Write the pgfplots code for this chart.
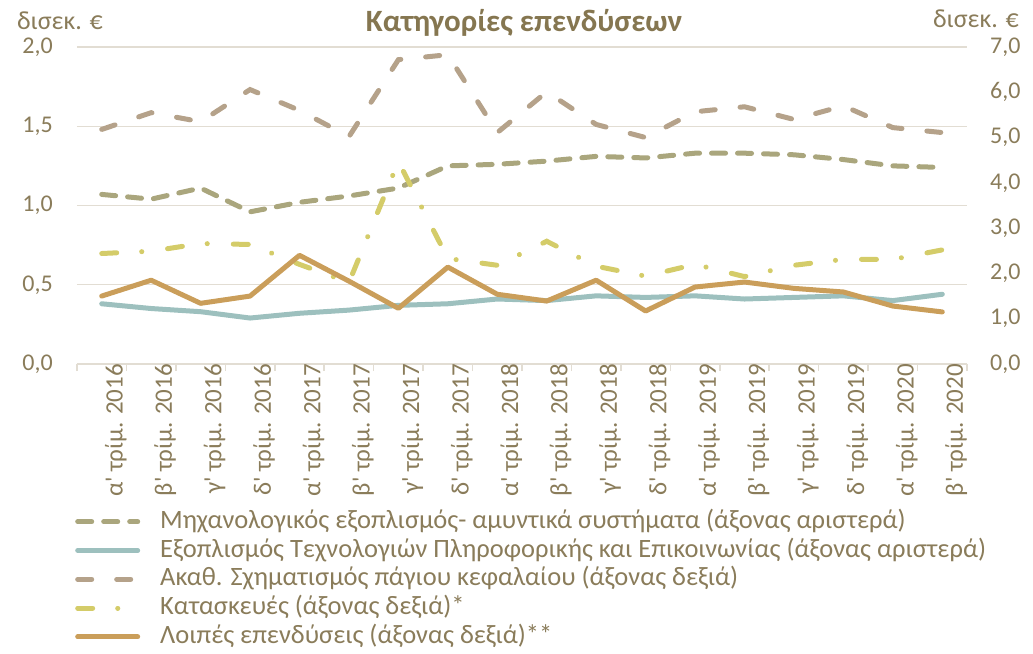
\documentclass[border=0pt]{standalone}
\usepackage{pgfplots}
\usepackage{pgfplotstable}
\pgfplotsset{compat=1.18}
\usepackage{fontspec}
\setmainfont{Carlito}
\definecolor{txt}{HTML}{8A7C5A}
\definecolor{titlec}{HTML}{857650}
\definecolor{gridc}{HTML}{E2DDD3}
\definecolor{cmach}{HTML}{AAA67D}
\definecolor{cict}{HTML}{9DC0BE}
\definecolor{cakath}{HTML}{B5A28A}
\definecolor{ckat}{HTML}{D4CC69}
\definecolor{cloip}{HTML}{CA9E5A}
\newcommand{\q}{\textquotesingle{}}
\pgfplotstableread{
i M I A K L
0 1.07 0.38 5.18 2.44 1.50
1 1.04 0.35 5.55 2.49 1.85
2 1.11 0.33 5.35 2.66 1.34
3 0.96 0.29 6.06 2.64 1.50
4 1.02 0.32 5.60 2.20 2.40
5 1.06 0.34 5.02 1.80 1.83
6 1.11 0.37 6.72 4.47 1.23
7 1.25 0.38 6.83 2.33 2.14
8 1.26 0.41 5.11 2.18 1.54
9 1.28 0.40 6.01 2.71 1.39
10 1.31 0.43 5.29 2.16 1.85
11 1.30 0.42 5.00 1.94 1.17
12 1.33 0.43 5.57 2.20 1.70
13 1.33 0.41 5.68 1.93 1.81
14 1.32 0.42 5.40 2.18 1.67
15 1.29 0.43 5.70 2.31 1.59
16 1.25 0.40 5.22 2.31 1.28
17 1.24 0.44 5.11 2.52 1.15
}\data
\tikzset{
  smach/.style={cmach, line width=5pt, line cap=round, dash pattern=on 14pt off 12pt},
  sict/.style={cict, line width=5pt, line cap=round, line join=round},
  sakath/.style={cakath, line width=5pt, line cap=round, dash pattern=on 14pt off 25pt},
  skat/.style={ckat, line width=5pt, line cap=round, dash pattern=on 15pt off 25pt on 0.1pt off 26pt},
  sloip/.style={cloip, line width=5pt, line cap=round, line join=round},
}
\pgfplotsset{
  common/.style={
    width=890pt, height=317pt, scale only axis,
    xmin=-0.5, xmax=17.5, clip=false,
    tick label style={font=\fontsize{24}{28}\selectfont, text=txt},
    /pgf/number format/.cd, use comma, fixed, fixed zerofill, precision=1, assume math mode=true,
    /pgfplots/.cd,
    major tick length=0pt,
    legend image code/.code={\draw[##1] (0pt,0pt) -- (60pt,0pt);},
  }
}
\begin{document}
\begin{tikzpicture}
\begin{axis}[common, name=ax,
  ymin=0, ymax=2, ytick={0,0.5,...,2},
  ymajorgrids, grid style={gridc, line width=1.3pt},
  axis x line*=bottom, axis y line*=left,
  y axis line style={draw=none},
  x axis line style={gridc, line width=1.5pt, -},
  xtick={0,...,17},
  xticklabels={α\q{} τρίμ. 2016, β\q{} τρίμ. 2016, γ\q{} τρίμ. 2016, δ\q{} τρίμ. 2016,
    α\q{} τρίμ. 2017, β\q{} τρίμ. 2017, γ\q{} τρίμ. 2017, δ\q{} τρίμ. 2017,
    α\q{} τρίμ. 2018, β\q{} τρίμ. 2018, γ\q{} τρίμ. 2018, δ\q{} τρίμ. 2018,
    α\q{} τρίμ. 2019, β\q{} τρίμ. 2019, γ\q{} τρίμ. 2019, δ\q{} τρίμ. 2019,
    α\q{} τρίμ. 2020, β\q{} τρίμ. 2020},
  xticklabel style={rotate=90, anchor=east, inner sep=0pt, yshift=-14pt, font=\fontsize{25}{29}\selectfont},
  yticklabel style={anchor=east, inner sep=0pt, xshift=-24pt},
  minor xtick={-0.5,0.5,...,17.5},
  minor x tick style={gridc, line width=1.5pt},
  tick align=outside, minor tick length=7pt,
]
\addplot[smach] table[x=i,y=M]{\data};
\addplot[sict] table[x=i,y=I]{\data};
\node[font=\fontsize{31}{36}\selectfont\bfseries, text=titlec, inner sep=0pt] at (rel axis cs:0.5,1) [xshift=2pt, yshift=24pt] {Κατηγορίες επενδύσεων};
\node[font=\fontsize{26}{30}\selectfont, text=txt, inner sep=0pt] at (rel axis cs:0,1) [xshift=-17pt, yshift=26pt] {δισεκ. €};
\node[font=\fontsize{26}{30}\selectfont, text=txt, inner sep=0pt] at (rel axis cs:1,1) [xshift=9pt, yshift=28pt] {δισεκ. €};
\end{axis}
\begin{axis}[common,
  ymin=0, ymax=7, ytick={0,1,...,7},
  axis y line*=right, axis x line=none,
  y axis line style={draw=none},
  yticklabel style={anchor=west, inner sep=0pt, xshift=23pt},
  legend style={at={(axis description cs:0,0)}, anchor=north west, xshift=-2pt, yshift=-145pt,
    draw=none, fill=none, inner sep=0pt, row sep=3.8pt,
    font=\fontsize{26.5}{30}\selectfont, text=txt,
    nodes={inner sep=0pt, text height=19pt, text depth=6pt},
    /tikz/every odd column/.append style={column sep=20pt}},
  legend cell align=left,
]
\addlegendimage{smach}\addlegendentry{Μηχανολογικός εξοπλισμός- αμυντικά συστήματα (άξονας αριστερά)}
\addlegendimage{sict}\addlegendentry{Εξοπλισμός Τεχνολογιών Πληροφορικής και Επικοινωνίας (άξονας αριστερά)}
\addplot[sakath] table[x=i,y=A]{\data};\addlegendentry{Ακαθ. Σχηματισμός πάγιου κεφαλαίου (άξονας δεξιά)}
\addplot[skat] table[x=i,y=K]{\data};\addlegendentry{Κατασκευές (άξονας δεξιά)*}
\addplot[sloip] table[x=i,y=L]{\data};\addlegendentry{Λοιπές επενδύσεις (άξονας δεξιά)**}
\end{axis}
\pgfresetboundingbox
\path ([xshift=-77pt,yshift=-289pt]ax.south west) rectangle ([xshift=66pt,yshift=47pt]ax.north east);
\end{tikzpicture}
\end{document}
